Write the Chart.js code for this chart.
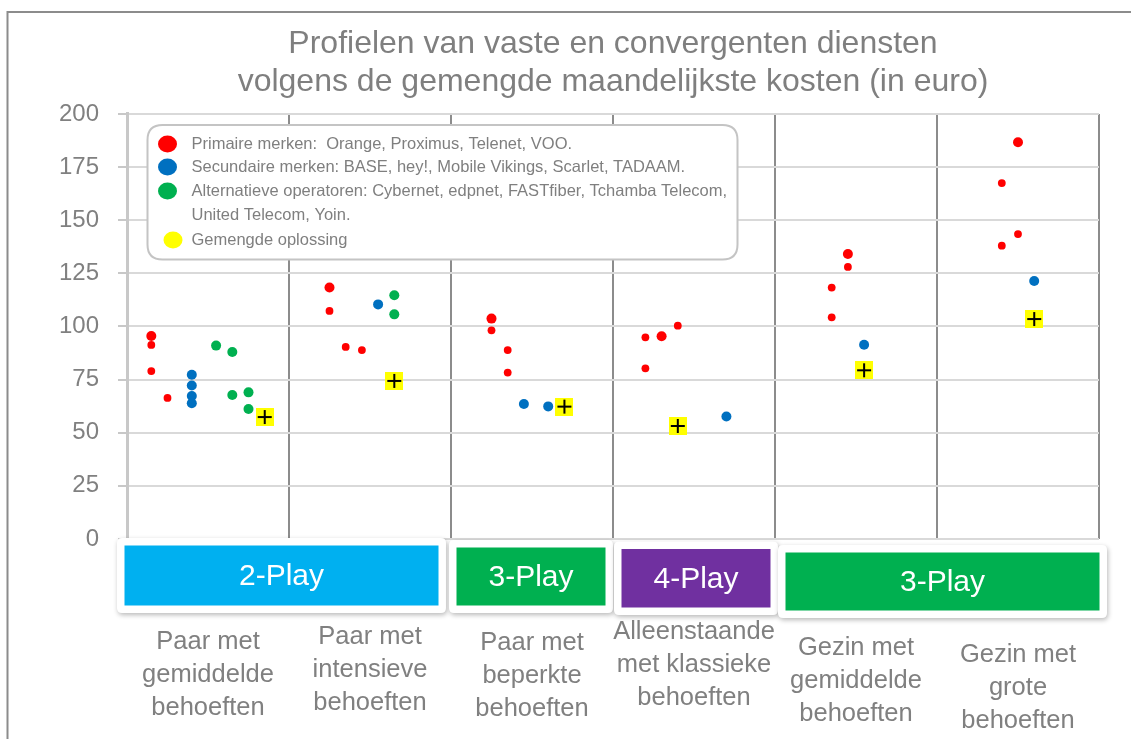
<!DOCTYPE html>
<html><head><meta charset="utf-8">
<script src="https://cdn.jsdelivr.net/npm/chart.js@4/dist/chart.umd.min.js"></script>
<style>html,body{margin:0;padding:0;background:#fff;overflow:hidden}</style>
</head><body>
<canvas id="c" width="1131" height="739"></canvas>
<script>
// ---------- data ----------
const titleLines = ["Profielen van vaste en convergenten diensten", "volgens de gemengde maandelijkste kosten (in euro)"];
const categoryLabels = [
  ["Paar met", "gemiddelde", "behoeften"],
  ["Paar met", "intensieve", "behoeften"],
  ["Paar met", "beperkte", "behoeften"],
  ["Alleenstaande", "met klassieke", "behoeften"],
  ["Gezin met", "gemiddelde", "behoeften"],
  ["Gezin met", "grote", "behoeften"]
];
const yTicks = [0, 25, 50, 75, 100, 125, 150, 175, 200];
const xBoundaries = [0, 1, 2, 3, 4, 5, 6];

// Primaire merken (red)
const primaryX = [0.15, 0.15, 0.15, 0.25,  1.25, 1.25, 1.35, 1.45,  2.25, 2.25, 2.35, 2.35,  3.2, 3.3, 3.4, 3.2,  4.45, 4.45, 4.35, 4.35,  5.5, 5.4, 5.5, 5.4];
const primaryY = [95.5, 91.3, 79, 66.4,  118.3, 107.3, 90.4, 88.9,  103.7, 98.2, 88.9, 78.3,  94.9, 95.4, 100.4, 80.3,  134.1, 128, 118.3, 104.3,  186.7, 167.5, 143.5, 138];
// Secundaire merken (blue)
const secondaryX = [0.4, 0.4, 0.4, 0.4,  1.55,  2.45, 2.6,  3.7,  4.55,  5.6];
const secondaryY = [77.3, 72.2, 67.3, 63.9,  110.4,  63.5, 62.4,  57.6,  91.4,  121.4];
// Alternatieve operatoren (green)
const alternativeX = [0.55, 0.65, 0.65, 0.75, 0.75,  1.65, 1.65];
const alternativeY = [91, 88, 67.8, 69, 61.2,  114.7, 105.7];
// Gemengde oplossing (yellow)
const mixedX = [0.85, 1.65, 2.7, 3.4, 4.55, 5.6];
const mixedY = [57.4, 74.4, 62.3, 53.2, 79.4, 103.5];

const legendLabels = [
  ["Primaire merken:  Orange, Proximus, Telenet, VOO."],
  ["Secundaire merken: BASE, hey!, Mobile Vikings, Scarlet, TADAAM."],
  ["Alternatieve operatoren: Cybernet, edpnet, FASTfiber, Tchamba Telecom,", "United Telecom, Yoin."],
  ["Gemengde oplossing"]
];
const playLabels = ["2-Play", "3-Play", "4-Play", "3-Play"];
const playFrom = [0, 2, 3, 4];
const playTo = [2, 3, 4, 6];

// ---------- styles ----------
const FONT = "'Liberation Sans', Arial, sans-serif";
const GRAY_TEXT = '#808080';
const seriesColors = ['#ff0000', '#0070c0', '#00b050', '#ffff00'];
const playColors = ['#00b0f0', '#00b050', '#7030a0', '#00b050'];
const primaryRadius = [5, 3.9, 3.9, 3.9,  5, 3.9, 3.9, 3.9,  5, 3.9, 3.9, 3.9,  3.9, 5, 3.9, 3.9,  5, 3.9, 3.9, 3.9,  5, 3.9, 3.9, 3.9];
// pixel nudges for the play frames [left, right, top, bottom]
const playFrameNudge = [[-10, -5, -1, 74], [-2, 0, 1, 74], [1, 3, 2.5, 76], [3, 8, 6, 79]];
const labelFirstLineOffset = [102.5, 98, 104, 93, 109, 116];

function pts(xs, ys) { return xs.map((x, i) => ({ x: x, y: ys[i] })); }

function makeMixedMarker() {
  const c = document.createElement('canvas');
  c.width = 18; c.height = 18;
  const g = c.getContext('2d');
  g.fillStyle = '#ffff00'; g.fillRect(0, 0, 18, 18);
  g.strokeStyle = '#000'; g.lineWidth = 2;
  g.beginPath(); g.moveTo(2, 9); g.lineTo(16, 9); g.moveTo(9, 2); g.lineTo(9, 16); g.stroke();
  return c;
}

function roundRect(ctx, x, y, w, h, r) {
  ctx.beginPath();
  ctx.moveTo(x + r, y);
  ctx.lineTo(x + w - r, y); ctx.quadraticCurveTo(x + w, y, x + w, y + r);
  ctx.lineTo(x + w, y + h - r); ctx.quadraticCurveTo(x + w, y + h, x + w - r, y + h);
  ctx.lineTo(x + r, y + h); ctx.quadraticCurveTo(x, y + h, x, y + h - r);
  ctx.lineTo(x, y + r); ctx.quadraticCurveTo(x, y, x + r, y);
  ctx.closePath();
}

const decorPlugin = {
  id: 'decor',
  beforeDraw(chart) {
    const ctx = chart.ctx;
    ctx.save();
    ctx.fillStyle = '#fff';
    ctx.fillRect(0, 0, chart.width, chart.height);
    ctx.strokeStyle = '#8c8c8c'; ctx.lineWidth = 2;
    ctx.beginPath(); ctx.moveTo(7.5, chart.height); ctx.lineTo(7.5, 12); ctx.lineTo(chart.width, 12); ctx.stroke();
    ctx.restore();
  },
  afterDraw(chart) {
    const ctx = chart.ctx;
    const xs = chart.scales.x;
    const ca = chart.chartArea;
    ctx.save();
    // legend box
    const lx = ca.left + 20.5, ly = ca.top + 11, lw = 590, lh = 134.5;
    roundRect(ctx, lx, ly, lw, lh, 15);
    ctx.fillStyle = '#fff'; ctx.fill();
    ctx.strokeStyle = '#c4c4c4'; ctx.lineWidth = 2; ctx.stroke();
    ctx.font = '16.5px ' + FONT;
    ctx.textBaseline = 'middle'; ctx.textAlign = 'left';
    const rowY = [ly + 19, ly + 42, ly + 66, ly + 115];
    const markX = [lx + 20, lx + 20, lx + 20, lx + 25.5];
    legendLabels.forEach((lines, i) => {
      ctx.fillStyle = seriesColors[i];
      ctx.beginPath(); ctx.ellipse(markX[i], rowY[i], 9.5, 8.5, 0, 0, Math.PI * 2); ctx.fill();
      ctx.fillStyle = '#7f7f7f';
      lines.forEach((t, k) => ctx.fillText(t, lx + 44, rowY[i] + k * 24));
    });
    // play boxes
    const base = ca.bottom;
    playLabels.forEach((lab, i) => {
      const n = playFrameNudge[i];
      const fx = xs.getPixelForValue(playFrom[i]) + n[0];
      const fr = xs.getPixelForValue(playTo[i]) + n[1];
      const fy = base + n[2];
      const fb = base + n[3];
      ctx.save();
      ctx.shadowColor = 'rgba(0,0,0,0.28)'; ctx.shadowBlur = 5; ctx.shadowOffsetX = 1; ctx.shadowOffsetY = 2;
      roundRect(ctx, fx, fy, fr - fx, fb - fy, 5);
      ctx.fillStyle = '#fff'; ctx.fill();
      ctx.restore();
      const inset = 7.5;
      ctx.fillStyle = playColors[i];
      ctx.fillRect(fx + inset, fy + inset, fr - fx - 2 * inset, fb - fy - 2 * inset);
      ctx.fillStyle = '#fff';
      ctx.font = '30px ' + FONT;
      ctx.textAlign = 'center'; ctx.textBaseline = 'middle';
      ctx.fillText(lab, (fx + fr) / 2, (fy + fb) / 2 + 1);
    });
    // category labels
    ctx.fillStyle = GRAY_TEXT;
    ctx.font = '25.5px ' + FONT;
    ctx.textAlign = 'center'; ctx.textBaseline = 'middle';
    categoryLabels.forEach((lines, i) => {
      const cx = xs.getPixelForValue(i + 0.5);
      lines.forEach((t, k) => ctx.fillText(t, cx, base + labelFirstLineOffset[i] + k * 33));
    });
    ctx.restore();
  }
};

const mixedMarker = makeMixedMarker();

new Chart(document.getElementById('c'), {
  type: 'scatter',
  data: {
    datasets: [
      { label: 'Gemengde oplossing', data: pts(mixedX, mixedY), pointStyle: mixedMarker, pointRadius: 9, backgroundColor: seriesColors[3], borderWidth: 0, order: 0 },
      { label: 'Primaire merken', data: pts(primaryX, primaryY), pointRadius: primaryRadius, backgroundColor: seriesColors[0], borderWidth: 0, order: 1 },
      { label: 'Secundaire merken', data: pts(secondaryX, secondaryY), pointRadius: 5, backgroundColor: seriesColors[1], borderWidth: 0, order: 2 },
      { label: 'Alternatieve operatoren', data: pts(alternativeX, alternativeY), pointRadius: 5, backgroundColor: seriesColors[2], borderWidth: 0, order: 3 }
    ]
  },
  options: {
    responsive: false,
    animation: false,
    devicePixelRatio: 1,
    layout: { padding: { left: 0, right: 32, top: 0, bottom: 200 } },
    plugins: {
      legend: { display: false },
      tooltip: { enabled: false },
      title: {
        display: true,
        fullSize: false,
        text: titleLines,
        color: '#7f7f7f',
        font: { family: FONT, size: 32, weight: 'normal', lineHeight: 1.19 },
        padding: { top: 25, bottom: 12.8 }
      }
    },
    scales: {
      x: {
        type: 'linear', min: 0, max: 6,
        afterBuildTicks: s => { s.ticks = xBoundaries.map(v => ({ value: v })); },
        ticks: { display: false },
        grid: { color: c => (c.tick && c.tick.value === 0) ? 'rgba(0,0,0,0)' : '#8c8c8c', lineWidth: 2, drawTicks: false },
        border: { display: false },
        afterFit: s => { s.height = 0; }
      },
      y: {
        min: 0, max: 200,
        afterBuildTicks: s => { s.ticks = yTicks.map(v => ({ value: v })); },
        ticks: { color: GRAY_TEXT, font: { family: FONT, size: 24 }, padding: 19 },
        grid: { color: '#d9d9d9', lineWidth: 2, tickLength: 9, tickColor: '#c8c8c8', tickWidth: 2 },
        border: { color: '#c8c8c8', width: 3 },
        afterFit: s => { s.width = 127; }
      }
    }
  },
  plugins: [decorPlugin]
});
</script>
</body></html>
